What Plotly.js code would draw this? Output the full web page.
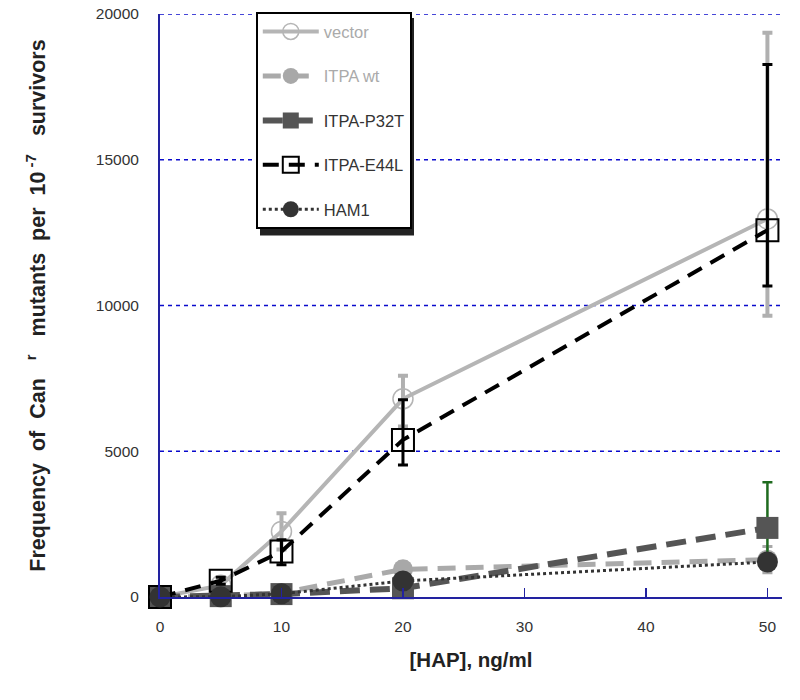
<!DOCTYPE html>
<html>
<head>
<meta charset="utf-8">
<script src="https://cdn.plot.ly/plotly-3.0.1.min.js"></script>
<style>html,body{margin:0;padding:0;background:#fff;}#chart{width:800px;height:700px;}</style>
</head>
<body>
<div id="chart"></div>
<script>
var hap = [0, 5, 10, 20, 50];
var xTickVals = [0, 10, 20, 30, 40, 50];
var yTickVals = [0, 5000, 10000, 15000, 20000];
var yTickText = ['0', '5000', '10000', '15000', '20000'];

var vectorY = [0, 400, 2250, 6800, 12970];
var vectorErrPlus = [0, 150, 620, 790, 6390];
var vectorErrMinus = [0, 150, 620, 950, 3325];

var wtY = [0, 20, 140, 950, 1280];
var wtErr = [0, 20, 60, 250, 450];

var p32tY = [0, 30, 100, 300, 2370];
var p32tErrPlus = [0, 20, 50, 150, 1570];
var p32tErrMinus = [0, 20, 50, 150, 1000];

var e44lY = [0, 560, 1560, 5390, 12585];
var e44lErrPlus = [0, 120, 400, 1380, 5680];
var e44lErrMinus = [0, 120, 450, 860, 1915];

var ham1Y = [0, 10, 110, 550, 1200];

var traceNames = ['<span style="color:#aaaaaa">vector</span>', '<span style="color:#aaaaaa">ITPA wt</span>', 'ITPA-P32T', 'ITPA-E44L', 'HAM1'];

var FONT = 'Arial, "Liberation Sans", sans-serif';
var GRID = '#0a0acc';

var traces = [
  {x: hap, y: vectorY, name: traceNames[0], legendgroup: 'a', mode: 'lines+markers', cliponaxis: false,
   line: {color: '#b5b5b5', width: 4},
   marker: {symbol: 'circle-open', size: 20, color: '#b5b5b5', line: {width: 1.5, color: '#b5b5b5'}},
   error_y: {type: 'data', array: vectorErrPlus, arrayminus: vectorErrMinus, color: '#b0b0b0', thickness: 4, width: 5}},
  {x: hap, y: wtY, name: traceNames[1], legendgroup: 'b', mode: 'lines+markers', cliponaxis: false,
   line: {color: '#aaaaaa', width: 5, dash: '18px,10px'},
   marker: {symbol: 'circle', size: 20, color: '#a8a8a8'},
   error_y: {type: 'data', array: wtErr, color: '#a8a8a8', thickness: 3, width: 5}},
  {x: hap, y: p32tY, name: traceNames[2], legendgroup: 'c', mode: 'lines+markers', cliponaxis: false,
   line: {color: '#555555', width: 6, dash: '20px,10px'},
   marker: {symbol: 'square', size: 22, color: '#555555'},
   error_y: {type: 'data', array: p32tErrPlus, arrayminus: p32tErrMinus, color: '#1f6b1f', thickness: 2.5, width: 5}},
  {x: hap, y: e44lY, name: traceNames[3], legendgroup: 'd', mode: 'lines+markers', cliponaxis: false,
   line: {color: '#000000', width: 4, dash: '16px,10px'},
   marker: {symbol: 'square-open', size: 22, color: '#000000', line: {width: 2, color: '#000000'}},
   error_y: {type: 'data', array: e44lErrPlus, arrayminus: e44lErrMinus, color: '#000000', thickness: 3, width: 5}},
  {x: hap, y: ham1Y, name: traceNames[4], legendgroup: 'e', mode: 'lines+markers', cliponaxis: false,
   line: {color: '#333333', width: 3, dash: 'dot'},
   marker: {symbol: 'circle', size: 21, color: '#333333'}}
];

var gridShapes = yTickVals.filter(function (v) { return v > 0; }).map(function (v) {
  return {type: 'line', xref: 'paper', yref: 'y', x0: 0, x1: 1, y0: v, y1: v,
          line: {color: GRID, width: 1.5, dash: '4px,4px'}, layer: 'below'};
});

var layout = {
  width: 800, height: 700,
  margin: {l: 160, r: 18, t: 12, b: 103},
  paper_bgcolor: '#ffffff', plot_bgcolor: '#ffffff',
  font: {family: FONT, color: '#333333', size: 15},
  showlegend: true,
  xaxis: {
    range: [0, 51.2], tickvals: xTickVals, ticktext: xTickVals.map(String),
    showgrid: false, zeroline: false, showline: true, linecolor: '#2222a0', linewidth: 2,
    ticks: 'inside', ticklen: 9, tickwidth: 1.5, tickcolor: '#2222a0', ticklabelstandoff: 14,
    tickfont: {size: 15.5, color: '#333333'},
    title: {text: '[HAP], ng/ml', font: {size: 20.5, color: '#222222', family: FONT, weight: 'bold'}, standoff: 19}
  },
  yaxis: {
    range: [0, 20000], tickvals: yTickVals, ticktext: yTickText,
    showgrid: false, zeroline: false, showline: true, linecolor: '#2222a0', linewidth: 2,
    ticks: '', ticklabelstandoff: 16,
    tickfont: {size: 15.5, color: '#333333'},
    title: {text: 'Frequency  of  Can   <sup>r</sup>   mutants  per  10<sup> -7</sup>   survivors', font: {size: 21.5, color: '#222222', family: FONT, weight: 'bold'}, standoff: 44}
  },
  shapes: gridShapes.concat([
    {type: 'rect', xref: 'paper', yref: 'paper',
     x0: (260 - 160) / 622, x1: (414 - 160) / 622, y0: (596.5 - 234) / 584.5, y1: (596.5 - 16) / 584.5,
     fillcolor: '#222222', line: {width: 0}, layer: 'above'}
  ]),
  legend: {
    x: 0.154, y: 1.003, xanchor: 'left', yanchor: 'top',
    bgcolor: '#ffffff', bordercolor: '#000000', borderwidth: 2,
    traceorder: 'grouped', tracegroupgap: 20,
    font: {size: 16.5, color: '#333333'}, itemwidth: 56
  }
};

Plotly.newPlot('chart', traces, layout, {displayModeBar: false, staticPlot: true});
</script>
</body>
</html>
